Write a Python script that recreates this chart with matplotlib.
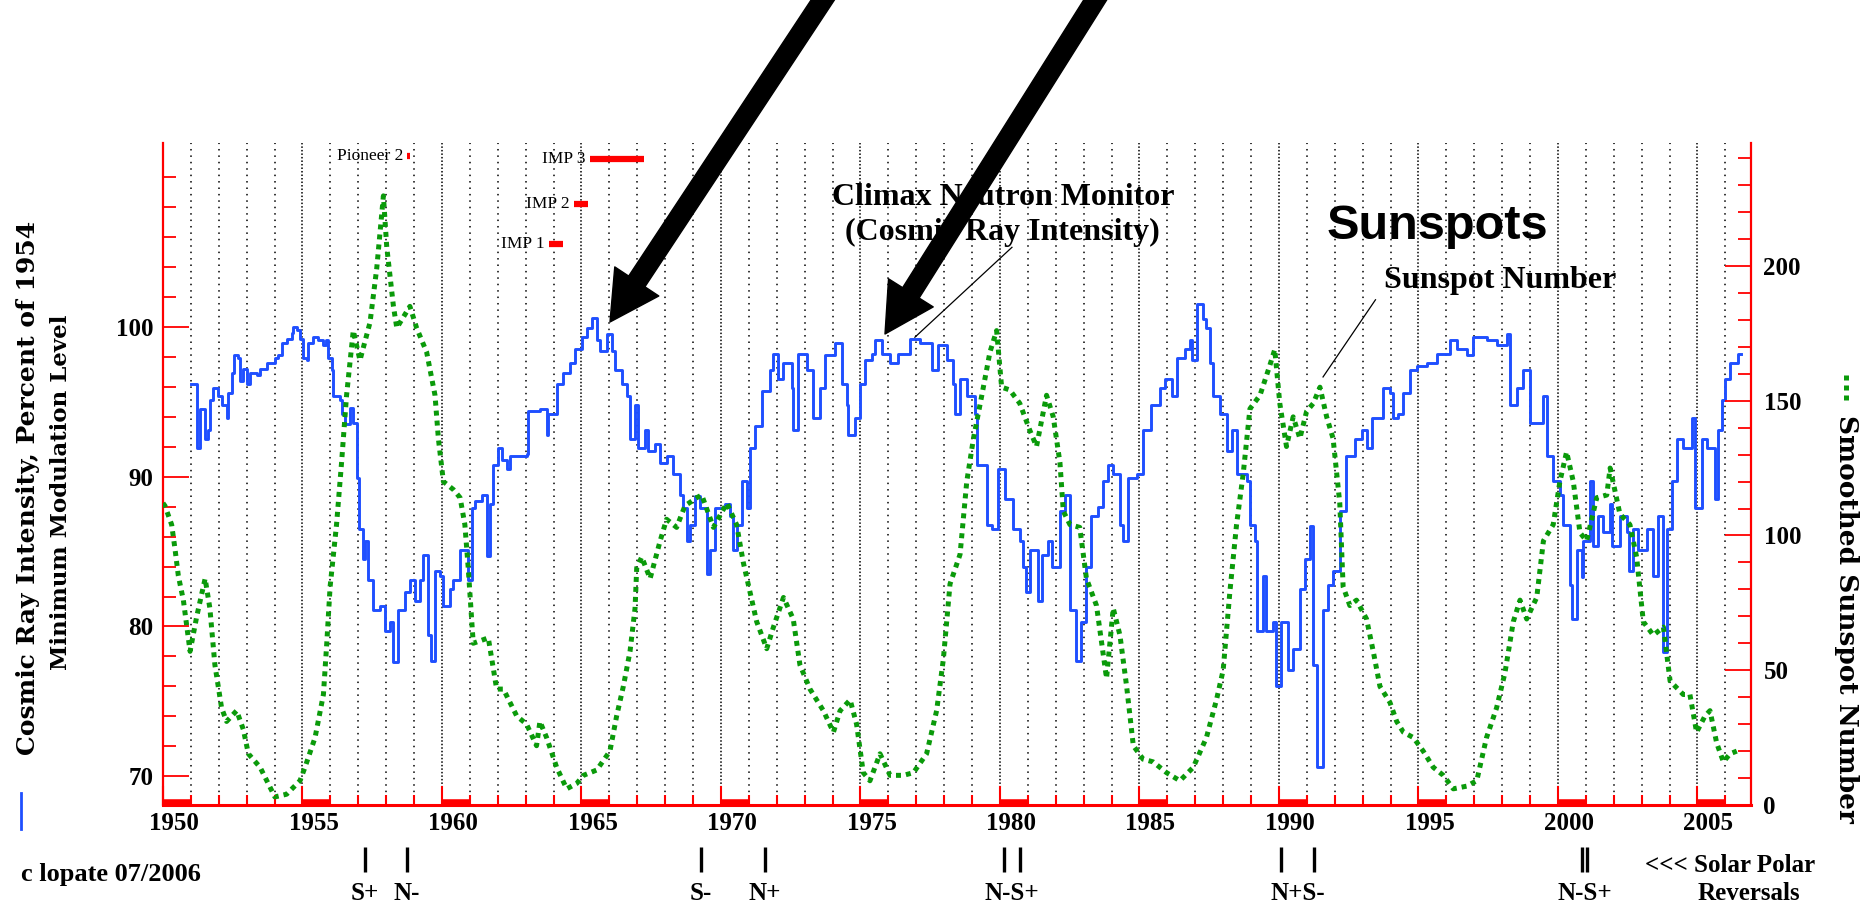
import matplotlib
matplotlib.use("Agg")
import matplotlib.pyplot as plt
from matplotlib.lines import Line2D
from matplotlib.patches import FancyArrowPatch
from matplotlib.transforms import ScaledTranslation

# ---- data ----
# Climax neutron monitor, percent of 1954 minimum (step curve)
cr_year = [1951.00, 1951.21, 1951.33, 1951.51, 1951.62, 1951.68, 1951.80, 1951.98, 1952.10, 1952.28,
           1952.34, 1952.46, 1952.54, 1952.70, 1952.76, 1952.88, 1953.00, 1953.12, 1953.36, 1953.48,
           1953.72, 1954.01, 1954.13, 1954.25, 1954.43, 1954.61, 1954.67, 1954.81, 1954.91, 1955.01,
           1955.15, 1955.21, 1955.39, 1955.57, 1955.75, 1955.83, 1955.93, 1956.05, 1956.11, 1956.34,
           1956.40, 1956.52, 1956.70, 1956.82, 1956.94, 1957.04, 1957.18, 1957.24, 1957.36, 1957.54,
           1957.78, 1957.96, 1958.14, 1958.26, 1958.43, 1958.67, 1958.85, 1959.03, 1959.21, 1959.33,
           1959.51, 1959.59, 1959.75, 1959.93, 1960.05, 1960.29, 1960.41, 1960.65, 1960.94, 1961.06,
           1961.18, 1961.42, 1961.60, 1961.72, 1961.84, 1962.02, 1962.14, 1962.32, 1962.44, 1962.80,
           1963.03, 1963.09, 1963.51, 1963.75, 1963.81, 1964.11, 1964.35, 1964.59, 1964.77, 1965.01,
           1965.19, 1965.37, 1965.55, 1965.67, 1965.90, 1966.08, 1966.20, 1966.44, 1966.62, 1966.74,
           1966.92, 1967.04, 1967.28, 1967.40, 1967.64, 1967.82, 1968.05, 1968.29, 1968.53, 1968.65,
           1968.77, 1968.89, 1969.07, 1969.25, 1969.49, 1969.61, 1969.79, 1970.15, 1970.33, 1970.44,
           1970.56, 1970.74, 1970.92, 1971.04, 1971.22, 1971.46, 1971.76, 1971.88, 1972.06, 1972.24,
           1972.53, 1972.59, 1972.77, 1973.07, 1973.31, 1973.55, 1973.73, 1974.09, 1974.33, 1974.51,
           1974.57, 1974.81, 1974.98, 1975.16, 1975.40, 1975.52, 1975.76, 1976.06, 1976.36, 1976.78,
           1977.13, 1977.55, 1977.79, 1978.09, 1978.33, 1978.39, 1978.57, 1978.81, 1979.11, 1979.17,
           1979.52, 1979.70, 1979.94, 1980.18, 1980.47, 1980.71, 1980.83, 1980.95, 1981.07, 1981.37,
           1981.49, 1981.73, 1981.85, 1982.15, 1982.33, 1982.51, 1982.74, 1982.92, 1983.10, 1983.28,
           1983.52, 1983.70, 1983.88, 1984.06, 1984.30, 1984.42, 1984.60, 1984.90, 1985.13, 1985.43,
           1985.73, 1985.91, 1986.15, 1986.33, 1986.63, 1986.81, 1986.87, 1987.05, 1987.28, 1987.40,
           1987.52, 1987.64, 1987.88, 1988.12, 1988.30, 1988.48, 1988.84, 1988.96, 1989.14, 1989.20,
           1989.44, 1989.55, 1989.79, 1989.91, 1990.09, 1990.33, 1990.51, 1990.75, 1990.93, 1991.11,
           1991.23, 1991.35, 1991.59, 1991.77, 1991.94, 1992.18, 1992.42, 1992.72, 1992.96, 1993.14,
           1993.32, 1993.74, 1993.98, 1994.10, 1994.28, 1994.46, 1994.70, 1994.94, 1995.29, 1995.65,
           1996.13, 1996.37, 1996.73, 1996.97, 1997.44, 1997.80, 1998.16, 1998.28, 1998.52, 1998.76,
           1999.00, 1999.48, 1999.60, 1999.83, 2000.07, 2000.19, 2000.43, 2000.49, 2000.67, 2000.85,
           2000.91, 2001.15, 2001.27, 2001.45, 2001.63, 2001.87, 2001.93, 2002.22, 2002.46, 2002.56,
           2002.70, 2002.88, 2003.18, 2003.42, 2003.60, 2003.75, 2003.90, 2004.08, 2004.25, 2004.49,
           2004.79, 2004.91, 2005.15, 2005.33, 2005.63, 2005.75, 2005.87, 2005.99, 2006.17, 2006.47,
           2006.55]
cr_value = [96.2, 91.9, 94.5, 92.5, 93.1, 95.1, 95.9, 95.4, 94.8, 93.9,
            95.6, 96.9, 98.1, 97.9, 96.4, 97.2, 96.2, 96.9, 96.8, 97.2,
            97.6, 97.9, 98.1, 98.9, 99.2, 99.6, 100.0, 99.8, 99.2, 97.9,
            97.8, 98.9, 99.3, 99.1, 98.8, 99.1, 97.9, 97.1, 95.4, 95.1,
            94.2, 93.5, 94.6, 93.6, 89.9, 86.5, 84.5, 85.7, 83.1, 81.1,
            81.4, 79.7, 80.3, 77.6, 81.1, 82.3, 83.1, 81.7, 83.1, 84.8,
            79.4, 77.7, 83.7, 83.4, 81.4, 82.5, 83.1, 85.1, 83.1, 87.9,
            88.4, 88.8, 84.7, 88.2, 90.8, 91.9, 91.1, 90.5, 91.4, 91.4,
            91.5, 94.4, 94.5, 92.8, 94.2, 96.2, 96.9, 97.6, 98.5, 99.3,
            99.9, 100.6, 99.1, 98.4, 99.5, 98.4, 97.1, 96.2, 95.4, 92.5,
            94.8, 91.9, 93.1, 91.7, 92.2, 90.9, 91.4, 90.2, 88.8, 87.9,
            85.7, 86.8, 88.7, 87.9, 83.5, 85.1, 87.9, 88.2, 87.4, 85.1,
            86.8, 89.7, 87.9, 91.9, 93.4, 95.7, 97.1, 98.2, 96.5, 97.6,
            95.9, 93.1, 98.2, 97.1, 93.9, 95.9, 98.1, 98.9, 96.2, 94.8,
            92.8, 93.9, 96.2, 97.8, 98.2, 99.1, 98.2, 97.6, 98.2, 99.2,
            98.9, 97.1, 98.8, 97.8, 96.2, 94.2, 96.5, 95.4, 94.2, 90.8,
            86.8, 86.5, 90.5, 88.5, 86.5, 85.7, 84.0, 82.3, 85.1, 81.7,
            84.8, 85.7, 84.0, 87.7, 88.8, 81.1, 77.7, 80.3, 84.0, 87.4,
            88.0, 89.7, 90.8, 90.2, 86.8, 85.7, 89.9, 90.2, 93.1, 94.8,
            95.9, 96.5, 95.4, 97.9, 98.5, 99.1, 97.8, 101.5, 100.5, 99.9,
            97.6, 95.4, 94.2, 91.7, 93.1, 90.2, 89.7, 86.8, 85.7, 79.7,
            83.4, 79.7, 80.3, 76.0, 80.3, 77.1, 78.5, 82.5, 84.5, 86.7,
            77.4, 70.6, 81.1, 82.8, 83.7, 87.7, 91.4, 92.5, 93.1, 91.9,
            93.9, 95.9, 95.6, 93.9, 94.2, 95.6, 97.1, 97.4, 97.6, 98.2,
            99.1, 98.5, 98.1, 99.3, 99.1, 98.8, 99.5, 94.8, 95.9, 97.1,
            93.6, 95.4, 91.4, 89.7, 88.8, 86.8, 82.8, 80.5, 85.1, 83.3,
            85.7, 89.7, 85.4, 87.4, 86.3, 88.2, 85.4, 87.4, 86.3, 83.7,
            86.5, 85.1, 86.5, 83.4, 87.4, 78.3, 86.5, 89.7, 92.5, 91.9,
            93.9, 87.9, 92.5, 91.9, 88.5, 93.1, 95.1, 96.5, 97.6, 98.2,
            98.2]

# smoothed sunspot number
ss_year = [1950.00, 1950.07, 1950.31, 1950.43, 1950.55, 1950.73, 1950.97, 1951.21, 1951.51, 1951.68,
           1951.86, 1952.10, 1952.28, 1952.64, 1952.88, 1953.06, 1953.48, 1953.72, 1954.01, 1954.43,
           1954.91, 1955.09, 1955.45, 1955.75, 1955.87, 1955.99, 1956.22, 1956.40, 1956.58, 1956.82,
           1957.06, 1957.42, 1957.66, 1957.90, 1958.02, 1958.26, 1958.38, 1958.85, 1959.09, 1959.45,
           1959.75, 1959.87, 1960.05, 1960.41, 1960.65, 1960.82, 1960.94, 1961.12, 1961.66, 1961.96,
           1962.20, 1962.68, 1963.03, 1963.39, 1963.51, 1963.75, 1964.11, 1964.47, 1964.83, 1965.07,
           1965.55, 1966.02, 1966.26, 1966.50, 1966.74, 1966.92, 1966.98, 1967.16, 1967.46, 1967.82,
           1968.05, 1968.41, 1968.71, 1969.13, 1969.31, 1969.73, 1970.21, 1970.56, 1970.80, 1971.04,
           1971.28, 1971.64, 1971.88, 1972.24, 1972.59, 1972.83, 1973.19, 1973.67, 1974.03, 1974.27,
           1974.63, 1974.86, 1975.10, 1975.34, 1975.70, 1976.06, 1976.54, 1976.90, 1977.37, 1977.73,
           1977.97, 1978.21, 1978.57, 1978.81, 1979.05, 1979.35, 1979.64, 1979.88, 1980.06, 1980.35,
           1980.71, 1981.07, 1981.31, 1981.67, 1981.91, 1982.15, 1982.27, 1982.51, 1982.86, 1983.10,
           1983.46, 1983.82, 1984.06, 1984.30, 1984.54, 1984.78, 1985.13, 1985.49, 1985.97, 1986.45,
           1986.93, 1987.40, 1987.76, 1988.00, 1988.24, 1988.48, 1988.72, 1988.96, 1989.32, 1989.67,
           1989.85, 1990.03, 1990.27, 1990.51, 1990.75, 1990.99, 1991.23, 1991.47, 1991.71, 1991.94,
           1992.18, 1992.30, 1992.54, 1992.78, 1993.14, 1993.38, 1993.62, 1993.98, 1994.22, 1994.46,
           1994.82, 1995.17, 1995.53, 1995.89, 1996.25, 1996.73, 1997.09, 1997.44, 1997.80, 1998.10,
           1998.40, 1998.64, 1998.88, 1999.24, 1999.48, 1999.83, 2000.07, 2000.31, 2000.55, 2000.79,
           2001.03, 2001.39, 2001.75, 2001.87, 2002.22, 2002.58, 2002.82, 2003.06, 2003.42, 2003.78,
           2004.02, 2004.49, 2004.73, 2004.97, 2005.27, 2005.45, 2005.69, 2005.93, 2006.17, 2006.41]
ss_value = [112, 111, 104, 95, 85, 76, 57, 70, 84, 73,
            52, 36, 31, 35, 28, 19, 14, 9, 3, 4,
            9, 14, 25, 41, 60, 81, 104, 127, 152, 176,
            165, 179, 199, 226, 207, 185, 177, 185, 177, 168,
            152, 136, 120, 117, 114, 104, 88, 60, 62, 43,
            43, 33, 30, 22, 31, 25, 14, 6, 8, 11,
            13, 20, 33, 44, 57, 73, 88, 92, 84, 98,
            106, 103, 111, 114, 115, 103, 112, 104, 90, 79,
            68, 58, 66, 77, 69, 52, 43, 35, 27, 35,
            39, 30, 12, 9, 19, 11, 11, 12, 19, 35,
            54, 82, 93, 120, 136, 152, 168, 176, 155, 154,
            149, 139, 133, 152, 144, 127, 109, 104, 103, 84,
            74, 47, 73, 63, 44, 22, 17, 16, 12, 9,
            14, 25, 39, 50, 79, 104, 123, 147, 152, 163,
            169, 149, 133, 144, 136, 146, 149, 155, 144, 136,
            112, 81, 74, 76, 69, 57, 44, 38, 31, 27,
            25, 20, 14, 11, 6, 7, 9, 25, 36, 49,
            68, 76, 69, 77, 98, 104, 120, 131, 120, 101,
            98, 114, 115, 125, 108, 104, 92, 68, 63, 66,
            46, 41, 41, 27, 33, 35, 23, 16, 19, 20]

# spacecraft coverage bars (start, end, left-axis level)
craft_names = ["Pioneer 2", "IMP 1", "IMP 2", "IMP 3"]
craft_start = [1958.75, 1963.83, 1964.73, 1965.30]
craft_end = [1958.85, 1964.34, 1965.23, 1967.24]
craft_level = [111.4, 105.5, 108.2, 111.2]

# solar polar field reversals
rev_years = [1957.24, 1958.75, 1969.28, 1971.58, 1980.14, 1980.72, 1990.09, 1991.25, 2000.85, 2001.04]
rev_labels = ["S+", "N-", "S-", "N+", "N-S+", "N+S-", "N-S+"]
rev_label_x = [1957.24, 1958.75, 1969.28, 1971.58, 1980.43, 1990.67, 2000.95]

year_ticks = list(range(1950, 2006, 5))
left_ticks = [70, 80, 90, 100]
right_ticks = [0, 50, 100, 150, 200]

BLUE = "#1f4fff"
GREEN = "#0a9a0a"
RED = "#ff0000"
W, H = 1870, 907


def px(x, y):
    # pixel position (from top-left) -> figure fraction
    return x / W, 1 - y / H


plt.rcParams["font.family"] = ["Liberation Serif", "DejaVu Serif"]
plt.rcParams["font.weight"] = "bold"

fig = plt.figure(figsize=(W / 100, H / 100), dpi=100)
ax = fig.add_axes([163 / W, 1 - 805 / H, (1751 - 163) / W, (805 - 143) / H])
ax2 = ax.twinx()

ax.set_xlim(1950, 2006.92)
ax.set_ylim(68.09, 112.26)
ax2.set_ylim(0, 245.6)

# dotted year grid, denser every 5 years
for yr in range(1951, 2007):
    if yr % 5 == 0:
        ax.axvline(yr, color="black", lw=1.1, ls=(0, (1, 1.3)), zorder=0)
    else:
        ax.axvline(yr, color="black", lw=1.1, ls=(0, (1, 3.2)), zorder=0)

ax.plot(cr_year, cr_value, color=BLUE, lw=2.1, drawstyle="steps-post", zorder=3)
ax2.plot(ss_year, ss_value, color=GREEN, lw=3.6, ls=(0, (1, 1)), zorder=3)

# spacecraft bars
for name, s, e, lev in zip(craft_names, craft_start, craft_end, craft_level):
    ax.plot([s, e], [lev, lev], color=RED, lw=4.5, solid_capstyle="butt")
    ax.text(s - 0.15, lev, name, ha="right", va="center", fontsize=12.5,
            fontweight="normal")

# thick red marks along the bottom every five years
for yr in year_ticks:
    ax.plot([yr, yr + 1], [0.005, 0.005], transform=ax.get_xaxis_transform(),
            color=RED, lw=4, solid_capstyle="butt", clip_on=False, zorder=4)

# spines
for a in (ax, ax2):
    a.spines["top"].set_visible(False)
ax.spines["right"].set_visible(False)
ax2.spines["left"].set_visible(False)
ax2.spines["bottom"].set_visible(False)
ax.spines["left"].set_color(RED)
ax.spines["left"].set_linewidth(1.6)
ax.spines["bottom"].set_color(RED)
ax.spines["bottom"].set_linewidth(2.2)
ax2.spines["right"].set_color(RED)
ax2.spines["right"].set_linewidth(1.6)

# ticks
ax.set_xticks(year_ticks)
ax.set_xticks(range(1950, 2007), minor=True)
ax.set_yticks(left_ticks)
ax.set_yticks(range(70, 112, 2), minor=True)
ax2.set_yticks(right_ticks)
ax2.set_yticks(range(0, 241, 10), minor=True)

ax.tick_params(axis="x", which="major", direction="in", length=14, width=1.5,
               color=RED, labelsize=18, pad=5)
ax.tick_params(axis="x", which="minor", direction="in", length=7, width=1.5, color=RED)
ax.tick_params(axis="y", which="major", direction="in", length=19, width=1.3,
               color=RED, labelsize=18, pad=7)
ax.tick_params(axis="y", which="minor", direction="in", length=9.5, width=1.3, color=RED)
ax2.tick_params(axis="y", which="major", direction="in", length=19, width=1.3,
                color=RED, labelsize=18, pad=9)
ax2.tick_params(axis="y", which="minor", direction="in", length=9.5, width=1.3, color=RED)

shift = ScaledTranslation(11 / 100, 0, fig.dpi_scale_trans)
for lab in ax.get_xticklabels():
    lab.set_transform(lab.get_transform() + shift)

# annotations inside the plot
ax.text(1980.1, 108.6, "Climax Neutron Monitor", ha="center", va="center", fontsize=23)
ax.text(1980.1, 106.3, "(Cosmic Ray Intensity)", ha="center", va="center", fontsize=23)
ax.plot([1976.95, 1980.43], [99.3, 105.3], color="black", lw=0.9)
ax.text(1997.92, 103.1, "Sunspot Number", ha="center", va="center", fontsize=23)
ax.plot([1991.58, 1993.46], [96.65, 101.8], color="black", lw=0.9)
fig.text(*px(1437, 239), "Sunspots", ha="center", va="baseline", fontsize=35,
         family="Liberation Sans", fontweight="bold")

# big black arrows from the top edge
for tip, start in [((610, 322), (832, -14)), ((885, 334), (1104, -14))]:
    arr = FancyArrowPatch(px(*start), px(*tip), transform=fig.transFigure,
                          arrowstyle="simple,head_length=35,head_width=38,tail_width=14",
                          mutation_scale=1, shrinkA=0, shrinkB=0,
                          color="black", zorder=10)
    fig.add_artist(arr)

# axis titles with their line keys
fig.text(*px(28, 488), "Cosmic Ray Intensity, Percent of 1954", rotation=90,
         ha="center", va="center", fontsize=18, family="DejaVu Serif")
fig.text(*px(61, 492), "Minimum Modulation Level", rotation=90,
         ha="center", va="center", fontsize=16.5, family="DejaVu Serif")
fig.add_artist(Line2D([21 / W, 21 / W], [1 - 829 / H, 1 - 793 / H], color=BLUE, lw=2))
fig.text(*px(1846, 619), "Smoothed Sunspot Number", rotation=270,
         ha="center", va="center", fontsize=19, family="DejaVu Serif")
fig.add_artist(Line2D([1846 / W, 1846 / W], [1 - 400 / H, 1 - 370 / H], color=GREEN,
                      lw=3.6, ls=(0, (1, 1))))

# polar reversal markers below the axis
ax.vlines(rev_years, -0.101, -0.063, transform=ax.get_xaxis_transform(),
          color="black", lw=2.4, clip_on=False)
for lab, x in zip(rev_labels, rev_label_x):
    ax.text(x, -0.133, lab, transform=ax.get_xaxis_transform(), ha="center",
            va="center", fontsize=18)
fig.text(*px(21, 874), "c lopate 07/2006", ha="left", va="center", fontsize=19)
fig.text(*px(1730, 866), "<<< Solar Polar", ha="center", va="center", fontsize=18)
fig.text(*px(1749, 893), "Reversals", ha="center", va="center", fontsize=18)

fig.savefig("out.png", dpi=100)
